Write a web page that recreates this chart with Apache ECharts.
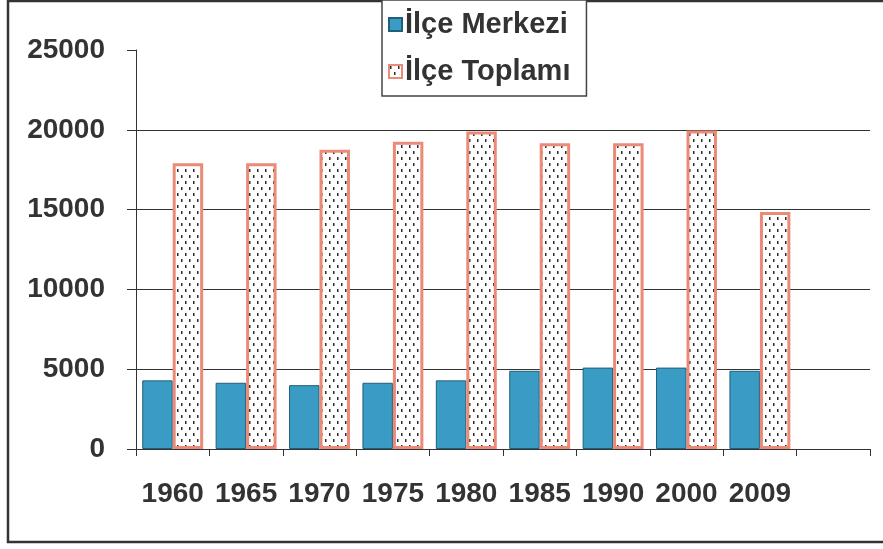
<!DOCTYPE html>
<html>
<head>
<meta charset="utf-8">
<script src="https://cdn.jsdelivr.net/npm/echarts@6/dist/echarts.min.js"></script>
<style>
    html, body { margin: 0; padding: 0; background: #fff; }
    #chart { width: 883px; height: 549px; }
</style>
</head>
<body>
<div id="chart"></div>
<script>
    // years on the x axis (last slot is left empty as in the original)
    var years = ['1960', '1965', '1970', '1975', '1980', '1985', '1990', '2000', '2009', ''];
    var merkezi = [4300, 4150, 4000, 4150, 4300, 4900, 5100, 5100, 4900, '-'];
    var toplam = [17900, 17900, 18750, 19250, 19900, 19150, 19150, 19950, 14850, '-'];
    var seriesNames = ['İlçe Merkezi', 'İlçe Toplamı'];

    // dotted fill for the second series
    function dotPattern() {
        var c = document.createElement('canvas');
        c.width = 8;
        c.height = 12;
        var ctx = c.getContext('2d');
        ctx.fillStyle = '#ffffff';
        ctx.fillRect(0, 0, 8, 12);
        ctx.fillStyle = '#2b2b2b';
        ctx.fillRect(1, 1, 1.5, 3);
        ctx.fillRect(5, 7, 1.5, 3);
        return c;
    }

    var font = 'Liberation Sans, Arial, sans-serif';
    var myChart = echarts.init(document.getElementById('chart'));
    myChart.setOption({
        animation: false,
        backgroundColor: '#fff',
        graphic: [{
            type: 'rect',
            shape: { x: 8, y: 1, width: 900, height: 541 },
            style: { fill: 'none', stroke: '#333', lineWidth: 2.5 },
            z: 0
        }],
        legend: {
            orient: 'vertical',
            left: 382,
            top: 0,
            padding: [10, 16, 10, 6],
            itemGap: 18,
            itemWidth: 13,
            itemHeight: 13,
            icon: 'rect',
            borderColor: '#444',
            borderWidth: 1.5,
            backgroundColor: '#fff',
            data: seriesNames,
            textStyle: {
                fontFamily: font,
                fontWeight: 'bold',
                fontSize: 29,
                color: '#333',
                padding: [0, 0, 0, -2]
            }
        },
        grid: {
            left: 136,
            right: 13,
            top: 50,
            bottom: 100
        },
        xAxis: {
            type: 'category',
            data: years,
            boundaryGap: true,
            axisLine: { lineStyle: { color: '#333', width: 1 } },
            axisTick: { show: true, interval: 0, length: 7, lineStyle: { color: '#333' } },
            axisLabel: {
                interval: 0,
                margin: 31,
                fontFamily: font,
                fontWeight: 'bold',
                fontSize: 28,
                color: '#333'
            }
        },
        yAxis: {
            type: 'value',
            min: 0,
            max: 25000,
            interval: 5000,
            axisLine: { show: true, lineStyle: { color: '#333', width: 1 } },
            axisTick: { show: true, length: 9, lineStyle: { color: '#333' } },
            axisLabel: {
                margin: 31,
                fontFamily: font,
                fontWeight: 'bold',
                fontSize: 28,
                color: '#333',
                formatter: function (v) { return String(v); }
            },
            splitLine: {
                show: true,
                showMaxLine: false,
                lineStyle: { color: '#333', width: 1 }
            }
        },
        series: [
            {
                name: seriesNames[0],
                type: 'bar',
                data: merkezi,
                barGap: '0%',
                barCategoryGap: '17%',
                itemStyle: {
                    color: '#3a9cc4',
                    borderColor: '#1f5f7a',
                    borderWidth: 1
                }
            },
            {
                name: seriesNames[1],
                type: 'bar',
                data: toplam,
                barGap: '0%',
                barCategoryGap: '17%',
                itemStyle: {
                    color: { image: dotPattern(), repeat: 'repeat' },
                    borderColor: '#ec8a78',
                    borderWidth: 3
                }
            }
        ]
    });
</script>
</body>
</html>
